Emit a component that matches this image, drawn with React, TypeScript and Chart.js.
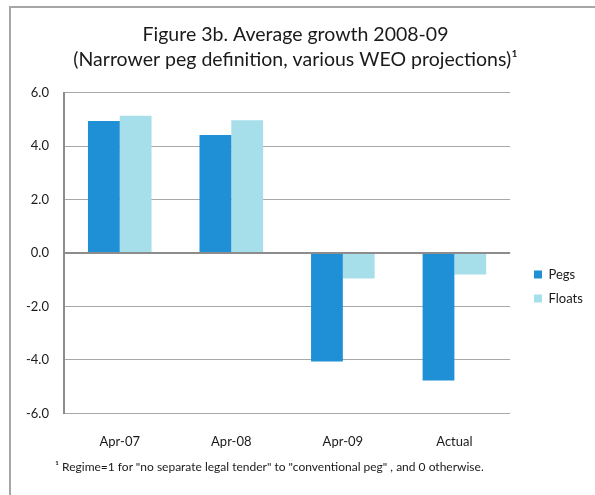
import React, { useEffect, useRef } from "react";
import { Chart, registerables } from "chart.js";

Chart.register(...registerables);

const categories = ["Apr-07", "Apr-08", "Apr-09", "Actual"];
const pegs = [4.94, 4.42, -4.06, -4.77];
const floats = [5.14, 4.97, -0.95, -0.8];
const yTicks = [-6, -4, -2, 0, 2, 4, 6];
const titleLines = [
  "Figure 3b. Average growth 2008-09",
  "(Narrower peg definition, various WEO projections)\u00B9",
];
const footnote =
  "\u00B9 Regime=1 for \"no separate legal tender\" to \"conventional peg\" , and 0 otherwise.";

const FONT = "Lato, 'Open Sans', sans-serif";

const legendShift = {
  id: "legendShift",
  afterLayout(chart: any) {
    const l = chart.legend;
    if (!l) return;
    const targetLeft = 512;
    const dx = targetLeft - l.left;
    const dy = 51;
    l.left += dx;
    l.right += dx;
    l.top += dy;
    l.bottom += dy;
  },
};

export default function App() {
  const ref = useRef<HTMLCanvasElement | null>(null);
  useEffect(() => {
    if (!ref.current) return;
    const chart = new Chart(ref.current, {
      type: "bar",
      data: {
        labels: categories,
        datasets: [
          {
            label: "Pegs",
            data: pegs,
            backgroundColor: "#1F8FD6",
            categoryPercentage: 0.57,
            barPercentage: 1,
          },
          {
            label: "Floats",
            data: floats,
            backgroundColor: "#A6DFEA",
            categoryPercentage: 0.57,
            barPercentage: 1,
          },
        ],
      },
      options: {
        responsive: false,
        animation: false,
        layout: { padding: { left: 0, right: 15, top: 0, bottom: 32 } },
        plugins: {
          title: {
            display: true,
            text: titleLines,
            color: "#1a1a1a",
            font: { family: FONT, size: 19.5, weight: "normal", lineHeight: 1.25 },
            padding: { top: 15, bottom: 21 },
          },
          legend: {
            display: true,
            position: "right",
            align: "center",
            labels: {
              boxWidth: 8,
              boxHeight: 8,
              padding: 11,
              color: "#1a1a1a",
              font: { family: FONT, size: 13 },
            },
          },
          tooltip: { enabled: false },
        },
        scales: {
          x: {
            grid: { display: false },
            border: { display: false },
            ticks: {
              color: "#1a1a1a",
              font: { family: FONT, size: 13 },
              padding: 13,
            },
          },
          y: {
            min: -6,
            max: 6,
            afterBuildTicks: (scale: any) => {
              scale.ticks = yTicks.map((v) => ({ value: v }));
            },
            ticks: {
              color: "#1a1a1a",
              font: { family: FONT, size: 13 },
              padding: 15,
              callback: (v: any) => Number(v).toFixed(1),
            },
            grid: {
              drawTicks: false,
              color: (ctx: any) => (ctx.tick && ctx.tick.value === 0 ? "#8c8c8c" : "#a8a8a8"),
              lineWidth: (ctx: any) => (ctx.tick && ctx.tick.value === 0 ? 2 : 1),
            },
            border: { display: true, color: "#8c8c8c", width: 2 },
          },
        },
      },
      plugins: [legendShift],
    });
    return () => chart.destroy();
  }, []);

  return (
    <div style={{ position: "absolute", left: 0, top: 0, width: 595, height: 495, overflow: "hidden", background: "#fff" }}>
      <div
        style={{
          position: "absolute",
          left: 9,
          top: 6,
          width: 600,
          height: 500,
          borderLeft: "2px solid #a6a6a6",
          borderTop: "2px solid #a6a6a6",
        }}
      />
      <canvas ref={ref} width={584} height={487} style={{ position: "absolute", left: 11, top: 8 }} />
      <div
        style={{
          position: "absolute",
          left: 55,
          top: 459,
          fontFamily: FONT,
          fontSize: 12,
          color: "#1a1a1a",
          whiteSpace: "nowrap",
          lineHeight: "15px",
        }}
      >
        {footnote}
      </div>
    </div>
  );
}
